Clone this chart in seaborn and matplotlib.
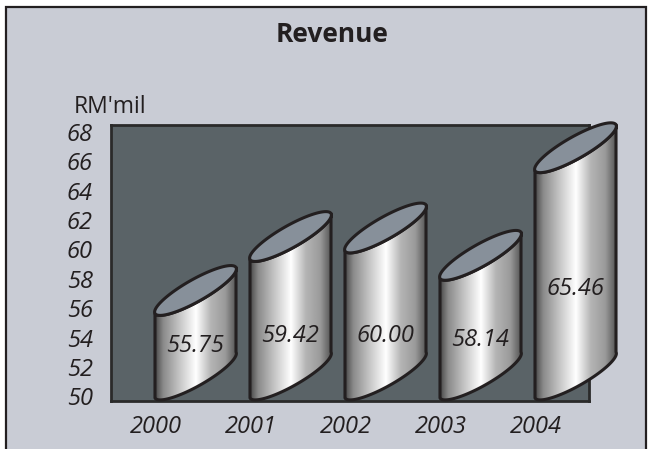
import numpy as np
import pandas as pd
import seaborn as sns
import matplotlib
matplotlib.use("Agg")
import matplotlib.pyplot as plt
from matplotlib.colors import LinearSegmentedColormap
from matplotlib.patches import PathPatch, Rectangle
from matplotlib.path import Path
from matplotlib.transforms import ScaledTranslation

years = ["2000", "2001", "2002", "2003", "2004"]
revenue = [55.75, 59.42, 60.00, 58.14, 65.46]
value_labels = ["55.75", "59.42", "60.00", "58.14", "65.46"]
y_ticks = [50, 52, 54, 56, 58, 60, 62, 64, 66, 68]
title = "Revenue"
unit = "RM'mil"

W, H = 653, 449
sns.set_theme(style="white")
plt.rcParams["font.family"] = ["Open Sans", "DejaVu Sans"]

PANEL = "#c9ccd5"
PLOT = "#5a6367"
CAP = "#87909a"
INK = "#231f20"

fig = plt.figure(figsize=(W / 100, H / 100), dpi=100, facecolor="white")
fig.add_artist(Rectangle((6 / W, -0.02), 640 / W, 1.02 - 6.5 / H, transform=fig.transFigure,
                         facecolor=PANEL, edgecolor=INK, linewidth=1.6, zorder=-1))

# plot frame in pixels
L, R, T, B = 111, 589, 125, 401
ax = fig.add_axes([L / W, 1 - B / H, (R - L) / W, (B - T) / H])
ax.set_facecolor(PLOT)

df = pd.DataFrame({"year": years, "revenue": revenue})
sns.barplot(data=df, x="year", y="revenue", ax=ax, width=0.853, color=PLOT)

px_x = 95.0    # pixels per category step
px_y = 14.7    # pixels per revenue unit
ax.set_xlim(-(195.5 - L) / px_x, (R - 195.5) / px_x)
ax.set_ylim(50 - (B - 398) / px_y, 50 + (398 - T) / px_y)

sheen = LinearSegmentedColormap.from_list(
    "sheen",
    [(0.0, "#484848"), (0.10, "#8a8a8a"), (0.30, "#c6c6c6"), (0.50, "#ffffff"),
     (0.68, "#b5b5b5"), (0.86, "#9a9a9a"), (1.0, "#505050")])
ramp = np.linspace(0, 1, 256)[None, :]

RISE = 46.0 / px_y     # upward slant of the elliptical ends, in revenue units
MINOR = 11.0           # half thickness of the ends, in pixels


def ellipse(x0, x1, y0, t):
    """Points of the slanted end ellipse whose long axis runs (x0, y0) to (x1, y0 + RISE)."""
    dx, dy = (x1 - x0) * px_x, RISE * px_y
    a = np.hypot(dx, dy) / 2
    ux, uy = dx / (2 * a), dy / (2 * a)
    ex = a * np.cos(t)
    ey = MINOR * np.sin(t)
    px = ex * ux - ey * uy
    py = ex * uy + ey * ux
    return (x0 + x1) / 2 + px / px_x, y0 + RISE / 2 + py / px_y


bars = list(ax.patches)
label_heights = [53.57, 54.2, 54.2, 53.93, 57.4]
for bar, val, text, h in zip(bars, revenue, value_labels, label_heights):
    x0, x1 = bar.get_x(), bar.get_x() + bar.get_width()
    bar.set_visible(False)

    # body: lower arc of the base, up the right side, back along the lower arc of the top
    t_low = np.linspace(np.pi, 2 * np.pi, 60)
    bx, by = ellipse(x0, x1, 50.0, t_low)
    tx, ty = ellipse(x0, x1, val, t_low[::-1])
    verts = np.column_stack([np.r_[bx, tx], np.r_[by, ty]])
    verts = np.vstack([verts, verts[0]])
    body = Path(verts, closed=True)

    grad = ax.imshow(ramp, cmap=sheen, extent=(x0, x1, 49, val + RISE + 1), aspect="auto",
                     zorder=3, interpolation="bilinear")
    outline = PathPatch(body, facecolor="none", edgecolor=INK, linewidth=2.2, zorder=4,
                        clip_on=False, joinstyle="round")
    ax.add_patch(outline)
    grad.set_clip_path(outline)
    # the bodies of the tallest bars run past the plot frame
    grad.set_clip_box(fig.bbox)

    t_all = np.linspace(0, 2 * np.pi, 120)
    cx, cy = ellipse(x0, x1, val, t_all)
    ax.fill(cx, cy, facecolor=CAP, edgecolor=INK, linewidth=2.2, zorder=5, clip_on=False)

    ax.text((x0 + x1) / 2, h, text, ha="center", va="center", style="italic",
            fontsize=17, color=INK, zorder=6)

# imshow resets the limits, so restore them
ax.set_xlim(-(195.5 - L) / px_x, (R - 195.5) / px_x)
ax.set_ylim(50 - (B - 398) / px_y, 50 + (398 - T) / px_y)

ax.set_xticks([b.get_x() + 0.01 for b in bars])
ax.set_xticklabels(years, style="italic", fontsize=17, color=INK)
ax.set_yticks(y_ticks)
ax.set_yticklabels(y_ticks, style="italic", fontsize=17, color=INK, va="center_baseline")
ax.tick_params(axis="x", length=0, pad=10)
ax.tick_params(axis="y", length=0, pad=13)
ax.set_xlabel("")
ax.set_ylabel("")

# lift the y labels slightly off their tick positions
lift = ScaledTranslation(0, 1.5 / 100, fig.dpi_scale_trans)
for label in ax.get_yticklabels():
    label.set_transform(label.get_transform() + lift)

for spine in ax.spines.values():
    spine.set_visible(True)
    spine.set_color("#2a2a2a")
    spine.set_linewidth(2.0)

fig.text(332 / W, 1 - 35 / H, title, ha="center", va="center", fontsize=19,
         fontweight="bold", color=INK)
fig.text(110 / W, 1 - 107 / H, unit, ha="center", va="center", fontsize=16.5, color=INK)

fig.savefig("out.png", dpi=100, facecolor="white")
